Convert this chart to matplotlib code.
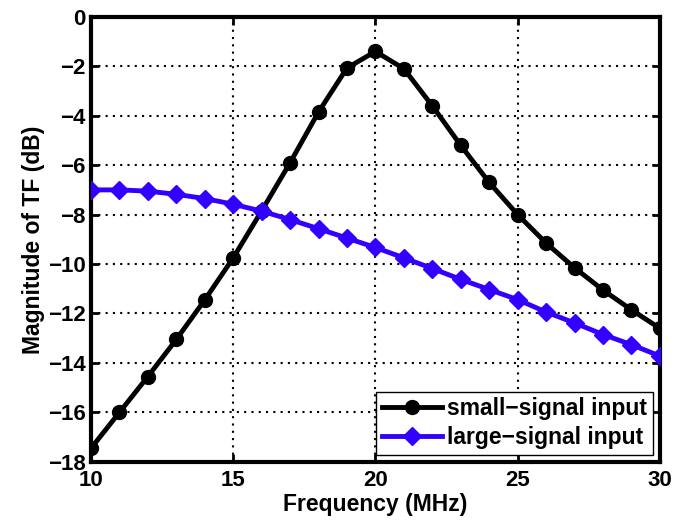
import matplotlib
matplotlib.use("Agg")
import matplotlib.pyplot as plt

freq = list(range(10, 31))
small_signal = [-17.45, -16.0, -14.55, -13.05, -11.45, -9.75, -7.85, -5.9, -3.85, -2.07, -1.4,
                -2.1, -3.6, -5.2, -6.7, -8.0, -9.15, -10.15, -11.05, -11.85, -12.6]
large_signal = [-7.0, -7.0, -7.05, -7.18, -7.35, -7.58, -7.86, -8.2, -8.57, -8.95, -9.33,
                -9.75, -10.18, -10.62, -11.03, -11.44, -11.94, -12.38, -12.85, -13.26, -13.72]
xticks = [10, 15, 20, 25, 30]
yticks = list(range(-18, 1, 2))

plt.rcParams['font.family'] = ['Liberation Sans', 'DejaVu Sans']
plt.rcParams['font.weight'] = 'bold'

fig = plt.figure(figsize=(6.74, 5.26), dpi=100)
ax = fig.add_axes([0.135, 0.122, 0.844, 0.846])

ax.plot(freq, small_signal, color='black', lw=3.5, marker='o', ms=10,
        label='small\u2212signal input', zorder=3)
ax.plot(freq, large_signal, color='#3300ff', lw=3.5, marker='D', ms=9,
        label='large\u2212signal input', zorder=3)

ax.set_xlim(10, 30)
ax.set_ylim(-18, 0)
ax.set_xticks(xticks)
ax.set_yticks(yticks)
ax.grid(True, color='black', linestyle=(0, (1, 2.5)), linewidth=1.5)
ax.tick_params(direction='in', length=6, width=2, labelsize=16, top=True, right=True, pad=4)
ax.tick_params(axis='x', pad=6)
for lab in ax.get_xticklabels() + ax.get_yticklabels():
    lab.set_fontweight('bold')
for s in ax.spines.values():
    s.set_linewidth(3)

ax.set_xlabel('Frequency (MHz)', fontsize=16.5, fontweight='bold', labelpad=1)
ax.set_ylabel('Magnitude of TF (dB)', fontsize=16.5, fontweight='bold', labelpad=2)

leg = ax.legend(loc='lower right', fontsize=16.5, fancybox=False, framealpha=1,
                edgecolor='black', handlelength=2.6, borderpad=0.25, labelspacing=0.25,
                borderaxespad=0.3, handletextpad=0.25)
leg.get_frame().set_linewidth(1)
for t in leg.get_texts():
    t.set_fontweight('bold')

fig.savefig('out.png', dpi=100)
